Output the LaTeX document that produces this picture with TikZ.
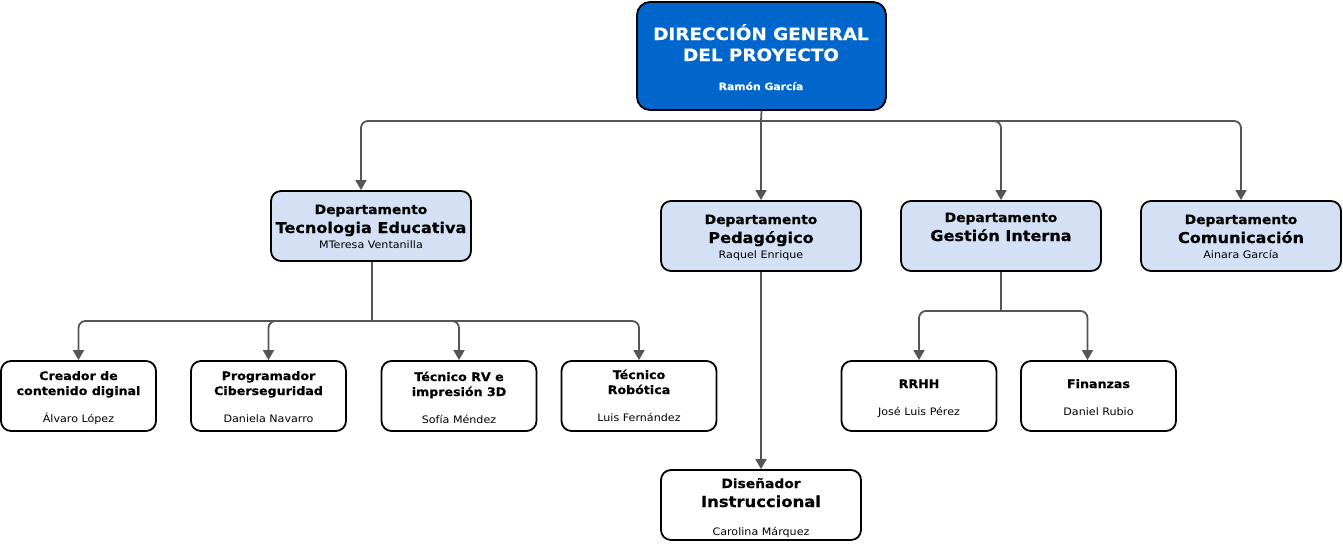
\documentclass[tikz,border=0pt]{standalone}
\usepackage{fontspec}
\setmainfont{DejaVu Sans}[FakeStretch=1.08, BoldFeatures={FakeBold=0.5}]
\usetikzlibrary{arrows.meta,calc}
\definecolor{topblue}{HTML}{0066CC}
\definecolor{deptblue}{HTML}{D4E1F5}
\definecolor{linegray}{HTML}{555555}
\tikzset{
  box/.style={draw=black, line width=1.8pt, rounded corners=10pt, inner sep=0pt},
  topbox/.style={box, fill=topblue, rounded corners=13pt},
  deptbox/.style={box, fill=deptblue, minimum width=200pt, minimum height=70pt},
  childbox/.style={box, fill=white, minimum width=155pt, minimum height=70pt},
  txt/.style={anchor=base, inner sep=0pt},
  ttop/.style={txt, text=white, font=\fontsize{17}{20}\selectfont\bfseries},
  tsub/.style={txt, text=white, font=\fontsize{10}{12}\selectfont\bfseries},
  tdep/.style={txt, font=\fontsize{12.8}{15}\selectfont\bfseries},
  tbig/.style={txt, font=\fontsize{14.9}{18}\selectfont\bfseries},
  tname/.style={txt, font=\fontsize{10.3}{12}\selectfont},
  tchild/.style={txt, font=\fontsize{11.7}{14}\selectfont\bfseries},
  conn/.style={draw=linegray, line width=1.8pt, rounded corners=7pt},
  arr/.style={conn, -{Triangle[length=10pt,width=11pt]}},
}
\begin{document}
\begin{tikzpicture}[x=1pt,y=-1pt]
\useasboundingbox (0,0) rectangle (1343,549);
% top
\node[topbox, minimum width=249pt, minimum height=108pt] (dir) at (761.5,56) {};
\node[ttop] (dir1) at (761,40) {DIRECCIÓN GENERAL};
\node[ttop] (dir2) at (761,61) {DEL PROYECTO};
\node[tsub] (dir3) at (761,90) {Ramón García};
% departments
\node[deptbox] (te) at (371,226) {};
\node[tdep] (te1) at (371,214) {Departamento};
\node[tbig] (te2) at (371,233) {Tecnologia Educativa};
\node[tname] (te3) at (371,248) {MTeresa Ventanilla};

\node[deptbox] (ped) at (761,236) {};
\node[tdep] (ped1) at (761,224) {Departamento};
\node[tbig] (ped2) at (761,243) {Pedagógico};
\node[tname] (ped3) at (761,258) {Raquel Enrique};

\node[deptbox] (ges) at (1001,236) {};
\node[tdep] (ges1) at (1001,222) {Departamento};
\node[tbig] (ges2) at (1001,241) {Gestión Interna};

\node[deptbox] (com) at (1241,236) {};
\node[tdep] (com1) at (1241,224) {Departamento};
\node[tbig] (com2) at (1241,243) {Comunicación};
\node[tname] (com3) at (1241,258) {Ainara García};
% TE children
\node[childbox] (c1) at (78.5,396) {};
\node[tchild] (c1a) at (78.5,380) {Creador de};
\node[tchild] (c1b) at (78.5,395) {contenido diginal};
\node[tname] (c1c) at (78.5,422) {Álvaro López};

\node[childbox] (c2) at (268.5,396) {};
\node[tchild] (c2a) at (268.5,380) {Programador};
\node[tchild] (c2b) at (268.5,395) {Ciberseguridad};
\node[tname] (c2c) at (268.5,422) {Daniela Navarro};

\node[childbox] (c3) at (459,396) {};
\node[tchild] (c3a) at (459,381) {Técnico RV e};
\node[tchild] (c3b) at (459,396) {impresión 3D};
\node[tname] (c3c) at (459,423) {Sofía Méndez};

\node[childbox] (c4) at (639,396) {};
\node[tchild] (c4a) at (639,379) {Técnico};
\node[tchild] (c4b) at (639,394) {Robótica};
\node[tname] (c4c) at (639,421) {Luis Fernández};
% Gestion children
\node[childbox] (rh) at (919,396) {};
\node[tchild] (rh1) at (919,388) {RRHH};
\node[tname] (rh2) at (919,415) {José Luis Pérez};

\node[childbox] (fin) at (1098.5,396) {};
\node[tchild] (fin1) at (1098.5,388) {Finanzas};
\node[tname] (fin2) at (1098.5,415) {Daniel Rubio};
% Pedagogico child
\node[deptbox, fill=white] (dis) at (761,505) {};
\node[tdep] (dis1) at (761,488) {Diseñador};
\node[tbig, font=\fontsize{15.2}{18}\selectfont\bfseries] (dis2) at (761,507) {Instruccional};
\node[tname] (dis3) at (761,535) {Carolina Márquez};
% connectors
\coordinate (bus) at (761,121);
\draw[conn] (dir.south) -- (bus);
\draw[arr] (bus) -| ($(te.north)+(-10,0)$);
\draw[arr] (bus) -- (ped.north);
\draw[arr] (bus) -| (ges.north);
\draw[arr] (bus) -| (com.north);

\coordinate (tebus) at (372,321);
\draw[conn] ($(te.south)+(1,0)$) -- (tebus);
\draw[arr] (tebus) -| (c1.north);
\draw[arr] (tebus) -| (c2.north);
\draw[arr] (tebus) -| (c3.north);
\draw[arr] (tebus) -| (c4.north);

\coordinate (gbus) at (1001,311);
\draw[conn] (ges.south) -- (gbus);
\draw[arr] (gbus) -| (rh.north);
\draw[arr] (gbus) -| ($(fin.north)+(-11,0)$);

\draw[arr] (ped.south) -- (dis.north);
\end{tikzpicture}
\end{document}
